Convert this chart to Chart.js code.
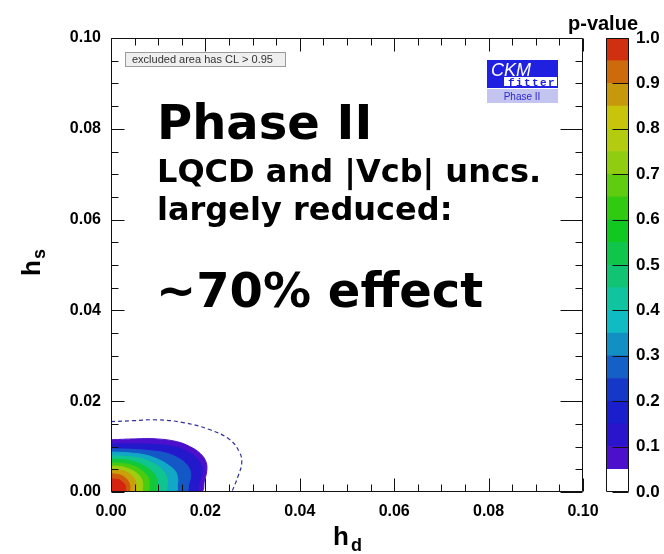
<!DOCTYPE html>
<html><head><meta charset="utf-8">
<script src="https://cdn.jsdelivr.net/npm/chart.js@4.4.1/dist/chart.umd.min.js"></script>
<style>
html,body{margin:0;padding:0;background:#fff;}
#wrap{position:relative;width:664px;height:554px;overflow:hidden;}
#main{position:absolute;left:0;top:0;}
#cbar{position:absolute;left:560px;top:0;}
</style></head><body>
<div id="wrap">
<canvas id="main" width="664" height="554"></canvas>
<canvas id="cbar" width="104" height="554"></canvas>
</div>
<script>
// ---------- data ----------
// filled p-value contours, [h_d, h_s] points, innermost first
const c095 = [[0,0.0029],[0.0009,0.0028],[0.0017,0.0027],[0.0023,0.0023],[0.0027,0.0019],[0.0030,0.0015],[0.0031,0.0010],[0.0031,0.0006],[0.0030,0]];
const c090 = [[0,0.0040],[0.0011,0.0039],[0.0021,0.0037],[0.0029,0.0032],[0.0034,0.0027],[0.0038,0.0021],[0.0040,0.0014],[0.0040,0.0008],[0.0038,0]];
const c080 = [[0,0.0050],[0.0015,0.0049],[0.0028,0.0046],[0.0038,0.0041],[0.0046,0.0034],[0.0051,0.0026],[0.0053,0.0018],[0.0053,0.0010],[0.0051,0]];
const c070 = [[0,0.0057],[0.0019,0.0056],[0.0035,0.0052],[0.0048,0.0046],[0.0058,0.0038],[0.0064,0.0030],[0.0067,0.0021],[0.0067,0.0011],[0.0064,0]];
const c060 = [[0,0.0064],[0.0023,0.0063],[0.0043,0.0059],[0.0059,0.0052],[0.0070,0.0043],[0.0078,0.0033],[0.0081,0.0023],[0.0081,0.0013],[0.0078,0]];
const c050 = [[0,0.0072],[0.0028,0.0071],[0.0051,0.0066],[0.0070,0.0058],[0.0084,0.0048],[0.0093,0.0037],[0.0097,0.0026],[0.0097,0.0014],[0.0093,0]];
const c040 = [[0,0.0080],[0.0034,0.0078],[0.0063,0.0074],[0.0086,0.0065],[0.0103,0.0054],[0.0114,0.0042],[0.0119,0.0029],[0.0119,0.0016],[0.0114,0]];
const c030 = [[0,0.0088],[0.0041,0.0086],[0.0075,0.0081],[0.0102,0.0071],[0.0122,0.0059],[0.0136,0.0046],[0.0141,0.0032],[0.0141,0.0018],[0.0136,0]];
const c020 = [[0,0.0095],[0.0043,0.0094],[0.0083,0.0091],[0.0116,0.0086],[0.0140,0.0076],[0.0157,0.0064],[0.0167,0.0049],[0.0169,0.0035],[0.0165,0.0018],[0.0159,0]];
const c010 = [[0,0.0106],[0.0049,0.0106],[0.0094,0.0105],[0.0133,0.0100],[0.0160,0.0090],[0.0180,0.0076],[0.0191,0.0059],[0.0193,0.0042],[0.0187,0.0022],[0.0180,0]];
const c005 = [[0,0.0115],[0.0050,0.0117],[0.0097,0.0117],[0.0139,0.0111],[0.0167,0.0100],[0.0189,0.0085],[0.0201,0.0067],[0.0203,0.0048],[0.0198,0.0025],[0.0190,0]];
const contourColors = ['#d42410','#d05a0c','#c8a00c','#a0cc10','#48cc10','#10c838','#10c490','#10a8c4','#1458c8','#2418cc','#4c10cc'];
// dashed contour
const dashedContour = [[0,0.0155],[0.0047,0.0157],[0.0097,0.0159],[0.0153,0.0153],[0.0210,0.0137],[0.0252,0.0115],[0.0273,0.0086],[0.0277,0.0064],[0.0269,0.0034],[0.0256,0]];
// colour scale
const pvalueBandEdges = [0,0.05,0.1,0.15,0.2,0.25,0.3,0.35,0.4,0.45,0.5,0.55,0.6,0.65,0.7,0.75,0.8,0.85,0.9,0.95,1.0];
const pvalueBandColors = ['#ffffff','#4c10cc','#2a14cc','#1a1ecc','#1638c8','#1460c6','#1290c4','#10bcc4','#10c4a0','#10c474','#10c64a','#10c820','#30ca10','#60cc10','#90cc10','#b4cc10','#c8c40c','#c8980c','#cc6a0c','#d03010'];
// ticks
const axisTicks = [0,0.02,0.04,0.06,0.08,0.10];
const axisMinorTicks = [0.005,0.01,0.015,0.025,0.03,0.035,0.045,0.05,0.055,0.065,0.07,0.075,0.085,0.09,0.095];
const cbarTicks = [0,0.1,0.2,0.3,0.4,0.5,0.6,0.7,0.8,0.9,1.0];
// texts
const bigTexts = [
  {t:'Phase II', x:157, y:139, size:48},
  {t:'LQCD and |Vcb| uncs.', x:157, y:182, size:32},
  {t:'largely reduced:', x:157, y:220, size:32},
  {t:'~70% effect', x:156, y:307, size:48}
];

Chart.defaults.font.family = "'Liberation Sans', Arial, sans-serif";
Chart.defaults.color = '#000';

const contours = [c095,c090,c080,c070,c060,c050,c040,c030,c020,c010,c005];
const toPts = arr => arr.map(p => ({x:p[0], y:p[1]}));

const datasets = [{
  data: toPts(dashedContour), showLine:true, fill:false, borderColor:'#30309c',
  borderWidth:1.2, borderDash:[4,3], pointRadius:0, tension:0.4
}];
contours.forEach((c,i) => {
  datasets.push({
    data: toPts(c).concat([{x:0,y:0}]), showLine:true, fill:'shape',
    backgroundColor: contourColors[i], borderColor: contourColors[i], borderWidth:1,
    pointRadius:0, tension:0.4
  });
});

const frameTicks = {
  id:'frameTicks',
  afterDatasetsDraw(chart){
    const {ctx, chartArea:a, scales:{x,y}} = chart;
    const L=Math.round(a.left)+0.5, R=Math.round(a.right)-0.5, T=Math.round(a.top)+0.5, B=Math.round(a.bottom)-0.5;
    ctx.save();
    ctx.strokeStyle='#111'; ctx.lineWidth=1;
    ctx.beginPath();
    ctx.rect(L,T,R-L,B-T);
    const tick = (vals, lenLB, lenT, lenR) => {
      vals.forEach(v => {
        const px = Math.round(x.getPixelForValue(v))+0.5;
        ctx.moveTo(px,B); ctx.lineTo(px,B-lenLB);
        ctx.moveTo(px,T); ctx.lineTo(px,T+lenT);
        const py = Math.round(y.getPixelForValue(v))+0.5;
        ctx.moveTo(L,py); ctx.lineTo(L+lenLB,py);
        ctx.moveTo(R,py); ctx.lineTo(R-lenR,py);
      });
    };
    tick(axisTicks, 13, 13, 22);
    tick(axisMinorTicks, 7, 7, 7);
    ctx.stroke();
    ctx.restore();
  },
  afterDraw(chart){
    const ctx = chart.ctx;
    ctx.save();
    // CL box
    ctx.fillStyle='#efefef'; ctx.strokeStyle='#9a9a9a'; ctx.lineWidth=1;
    ctx.fillRect(125,52,160,14); ctx.strokeRect(125.5,52.5,160,14);
    ctx.fillStyle='#333'; ctx.font="11px 'Liberation Sans', Arial, sans-serif";
    ctx.textBaseline='alphabetic'; ctx.textAlign='left';
    ctx.fillText('excluded area has CL > 0.95', 132, 63);
    // CKMfitter logo
    ctx.fillStyle='#2020e0';
    ctx.fillRect(487,60,71,28);
    ctx.fillStyle='#ffffff';
    ctx.fillRect(504,77,53,9);
    ctx.font="italic 18px 'Liberation Sans', Arial, sans-serif";
    ctx.fillText('CKM', 491, 76);
    ctx.fillStyle='#2020e0';
    ctx.font="bold 11px 'Liberation Mono', monospace";
    'fitter'.split('').forEach((ch,i)=>ctx.fillText(ch, 508+i*8, 86));
    ctx.fillStyle='#c4c4f0';
    ctx.fillRect(487,89,71,14);
    ctx.fillStyle='#2a2ad0';
    ctx.font="10px 'Liberation Sans', Arial, sans-serif";
    ctx.textAlign='center';
    ctx.fillText('Phase II', 522, 100);
    // big texts
    ctx.textAlign='left'; ctx.fillStyle='#000';
    bigTexts.forEach(b => {
      ctx.font = `bold ${b.size}px 'DejaVu Sans', sans-serif`;
      ctx.fillText(b.t, b.x, b.y);
    });
    // axis titles
    ctx.font="bold 26px 'Liberation Sans', Arial, sans-serif";
    ctx.fillText('h', 333, 545);
    ctx.font="bold 18px 'Liberation Sans', Arial, sans-serif";
    ctx.fillText('d', 351, 551);
    ctx.translate(40, 276);
    ctx.rotate(-Math.PI/2);
    ctx.font="bold 26px 'Liberation Sans', Arial, sans-serif";
    ctx.fillText('h', 0, 0);
    ctx.font="bold 18px 'Liberation Sans', Arial, sans-serif";
    ctx.fillText('s', 17, 5);
    ctx.restore();
  }
};

const tickFont = {size:16, weight:'bold', family:"'Liberation Sans', Arial, sans-serif"};
new Chart(document.getElementById('main'), {
  type:'scatter',
  data:{datasets},
  options:{
    responsive:false, animation:false, devicePixelRatio:1,
    layout:{padding:{left:0,right:81,top:38,bottom:0}},
    plugins:{legend:{display:false}, tooltip:{enabled:false}},
    scales:{
      x:{type:'linear', min:0, max:0.1,
         grid:{display:false, drawTicks:false}, border:{display:false},
         afterBuildTicks: s => { s.ticks = axisTicks.map(v=>({value:v})); },
         afterFit: s => { s.height = 62; },
         ticks:{callback:v=>Number(v).toFixed(2), font:tickFont, color:'#000', padding:10, maxRotation:0, autoSkip:false}},
      y:{type:'linear', min:0, max:0.1,
         grid:{display:false, drawTicks:false}, border:{display:false},
         afterBuildTicks: s => { s.ticks = axisTicks.map(v=>({value:v})); },
         afterFit: s => { s.width = 111; },
         ticks:{callback:v=>Number(v).toFixed(2), font:tickFont, color:'#000', padding:10, autoSkip:false}}
    }
  },
  plugins:[frameTicks]
});

// ---------- colour bar ----------
const cbarPlugin = {
  id:'cbarFrame',
  afterDatasetsDraw(chart){
    const {ctx, chartArea:a, scales:{y}} = chart;
    const L=Math.round(a.left)+0.5, R=Math.round(a.right)-0.5, T=Math.round(a.top)+0.5, B=Math.round(a.bottom)-0.5;
    ctx.save();
    ctx.strokeStyle='#111'; ctx.lineWidth=1;
    ctx.beginPath();
    ctx.rect(L,T,R-L,B-T);
    cbarTicks.forEach(v => {
      const py = Math.round(y.getPixelForValue(v))+0.5;
      ctx.moveTo(R,py); ctx.lineTo(R-16,py);
    });
    ctx.stroke();
    ctx.fillStyle='#000';
    ctx.font="bold 20px 'Liberation Sans', Arial, sans-serif";
    ctx.textAlign='left'; ctx.textBaseline='alphabetic';
    ctx.fillText('p-value', 8, 30);
    ctx.restore();
  }
};
new Chart(document.getElementById('cbar'), {
  type:'bar',
  data:{
    labels:['p'],
    datasets: pvalueBandColors.map((col,i)=>({
      data:[pvalueBandEdges[i+1]-pvalueBandEdges[i]], backgroundColor:col,
      borderWidth:0, barPercentage:1, categoryPercentage:1
    }))
  },
  options:{
    responsive:false, animation:false, devicePixelRatio:1,
    layout:{padding:{left:46,right:0,top:38,bottom:62}},
    plugins:{legend:{display:false}, tooltip:{enabled:false}},
    scales:{
      x:{display:false, stacked:true},
      y:{position:'right', stacked:true, min:0, max:1,
         grid:{display:false, drawTicks:false}, border:{display:false},
         afterBuildTicks: s => { s.ticks = cbarTicks.map(v=>({value:v})); },
         afterFit: s => { s.width = 35; },
         ticks:{callback:v=>Number(v).toFixed(1), font:{size:17, weight:'bold', family:"'Liberation Sans', Arial, sans-serif"}, color:'#000', padding:7, autoSkip:false}}
    }
  },
  plugins:[cbarPlugin]
});
</script>
</body></html>
